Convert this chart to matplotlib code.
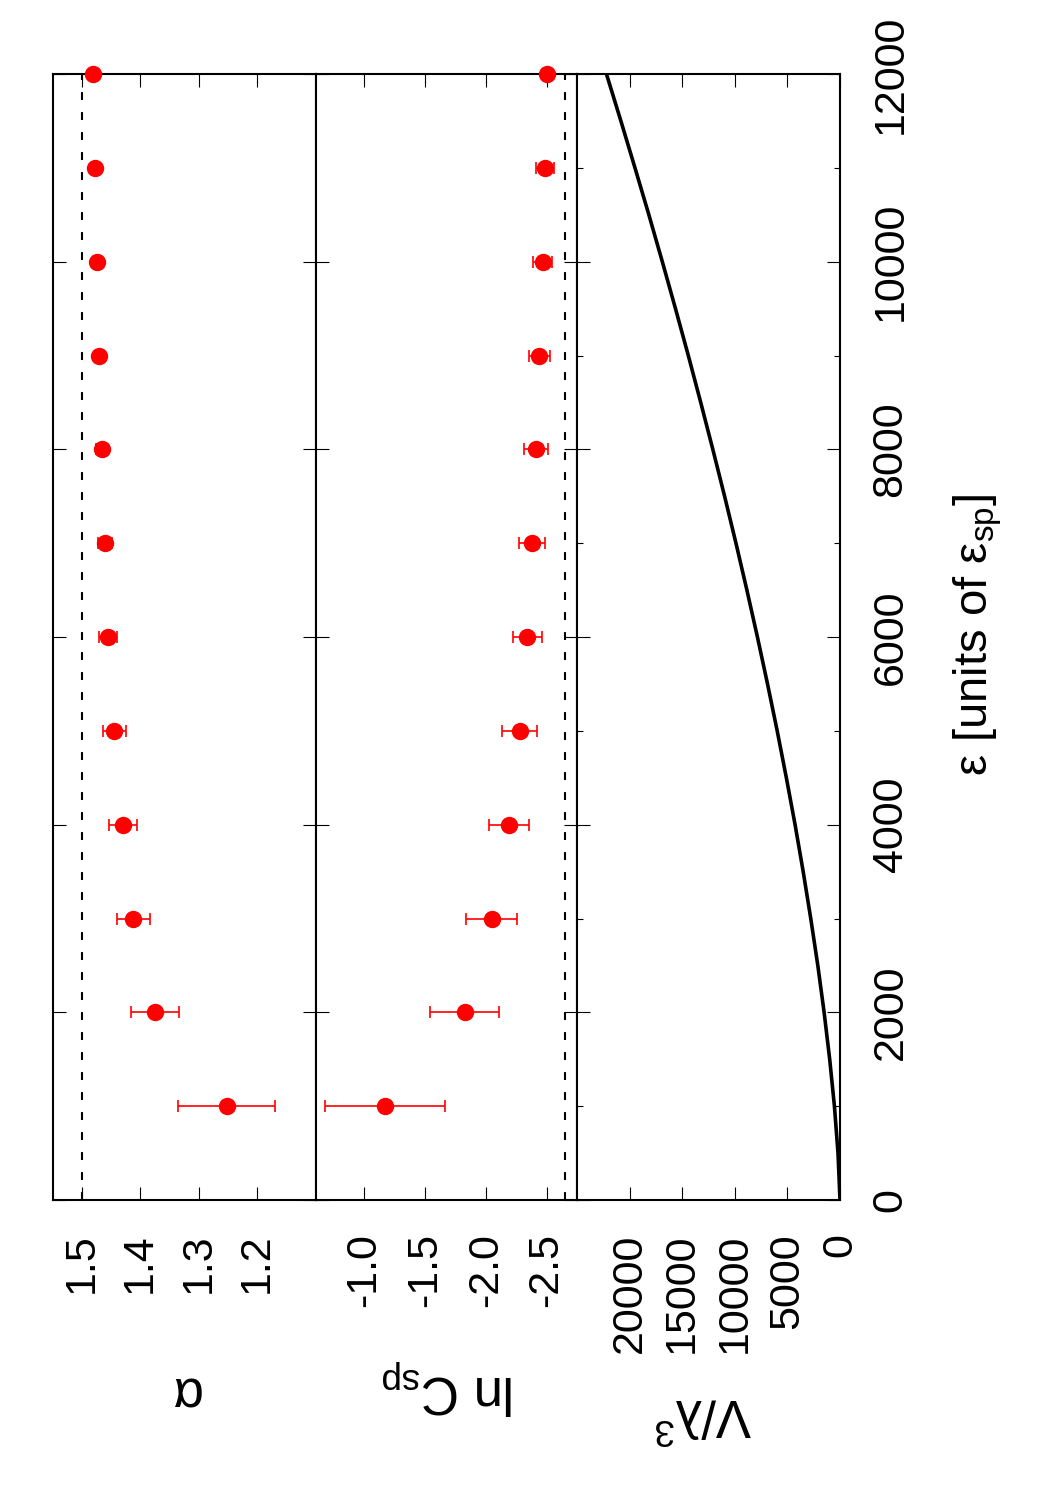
import numpy as np
import matplotlib.pyplot as plt

plt.rcParams['font.family'] = ['Liberation Sans', 'DejaVu Sans']
plt.rcParams['font.size'] = 31
plt.rcParams['mathtext.default'] = 'regular'

eps = [1000, 2000, 3000, 4000, 5000, 6000, 7000, 8000, 9000, 10000, 11000, 12000]
alpha = [1.252, 1.374, 1.412, 1.430, 1.444, 1.455, 1.461, 1.466, 1.470, 1.474, 1.477, 1.480]
alpha_err = [0.083, 0.041, 0.028, 0.024, 0.019, 0.015, 0.012, 0.009, 0.007, 0.005, 0.004, 0.003]
lnc = [-1.17, -1.826, -2.05, -2.19, -2.28, -2.343, -2.38, -2.412, -2.44, -2.467, -2.486, -2.504]
lnc_err = [0.495, 0.283, 0.21, 0.166, 0.144, 0.12, 0.11, 0.098, 0.087, 0.078, 0.074, 0.01]
eps_v = [0, 500, 1000, 1500, 2000, 2500, 3000, 3500, 4000, 4500, 5000, 5500, 6000,
         6500, 7000, 7500, 8000, 8500, 9000, 9500, 10000, 10500, 11000, 11500, 12000]
vol = [0, 190, 530, 980, 1510, 2110, 2780, 3500, 4270, 5100, 5970, 6890, 7850,
       8850, 9890, 10970, 12090, 13240, 14420, 15640, 16890, 18170, 19490, 20830, 22200]

alpha_limit = 1.5
lnc_limit = -2.65

W, H = 1050, 1500
fig = plt.figure(figsize=(W / 100, H / 100), dpi=100)

def px_axes(x0, x1, y0, y1):
    return fig.add_axes([x0 / W, 1 - y1 / H, (x1 - x0) / W, (y1 - y0) / H])

ax_a = px_axes(52.5, 315.5, 74, 1200)
ax_c = px_axes(315.5, 577, 74, 1200)
ax_v = px_axes(577, 840, 74, 1200)

red = '#ff0000'
for ax, y, e in [(ax_a, alpha, alpha_err), (ax_c, lnc, lnc_err)]:
    ax.errorbar(y, eps, xerr=e, fmt='o', color=red, ms=11.5, ecolor=red,
                elinewidth=1.2, capsize=4.5, capthick=1.2, clip_on=False, zorder=5)

ax_a.axvline(alpha_limit, color='black', lw=1.5, ls=(0, (3.8, 5.8)))
ax_c.axvline(lnc_limit, color='black', lw=1.5, ls=(0, (3.8, 5.8)))
ax_v.plot(vol, eps_v, color='black', lw=2.6)

ax_a.set_xlim(1.55, 1.1)
ax_c.set_xlim(-0.6, -2.75)
ax_v.set_xlim(25000, 0)

ax_a.set_xticks([1.5, 1.4, 1.3, 1.2], ['1.5', '1.4', '1.3', '1.2'])
ax_c.set_xticks([-1.0, -1.5, -2.0, -2.5], ['-1.0', '-1.5', '-2.0', '-2.5'])
ax_v.set_xticks([20000, 15000, 10000, 5000, 0], ['20000', '15000', '10000', '5000', '0'])

for ax in (ax_a, ax_c, ax_v):
    ax.set_ylim(0, 12000)
    ax.set_yticks(range(0, 12001, 2000))
    for s in ax.spines.values():
        s.set_linewidth(1.5)
    ax.tick_params(axis='both', which='major', direction='in', length=9.5, width=0.8,
                   top=True, bottom=True, left=True, right=True)
    ax.tick_params(axis='x', labelrotation=90, pad=24)
    ax.tick_params(axis='y', labelleft=False, labelright=False)

ax_v.set_yticks(range(1000, 12000, 2000), minor=True)
ax_v.tick_params(axis='y', which='minor', direction='in', length=4.5, width=0.8,
                 left=True, right=True)
ax_v.tick_params(axis='y', which='major', labelright=True, labelrotation=90, pad=22)
for lab in ax_v.get_yticklabels():
    lab.set_verticalalignment('center')

# labels (original page was rotated, so the y labels end up upside down)
fig.text(184 / W, 1 - 1390 / H, 'α', rotation=180, ha='center', va='center', fontsize=38)
fig.text(448 / W, 1 - 1387 / H, r'ln C$_{sp}$', rotation=180, ha='center', va='center', fontsize=38)
fig.text(703 / W, 1 - 1413 / H, r'V/λ$^{3}$', rotation=180, ha='center', va='center', fontsize=38)
fig.text(978 / W, 1 - 635 / H, r'ε [units of ε$_{sp}$]', rotation=90, ha='center', va='center',
         fontsize=34)

fig.savefig('out.png', dpi=100, facecolor='white')
